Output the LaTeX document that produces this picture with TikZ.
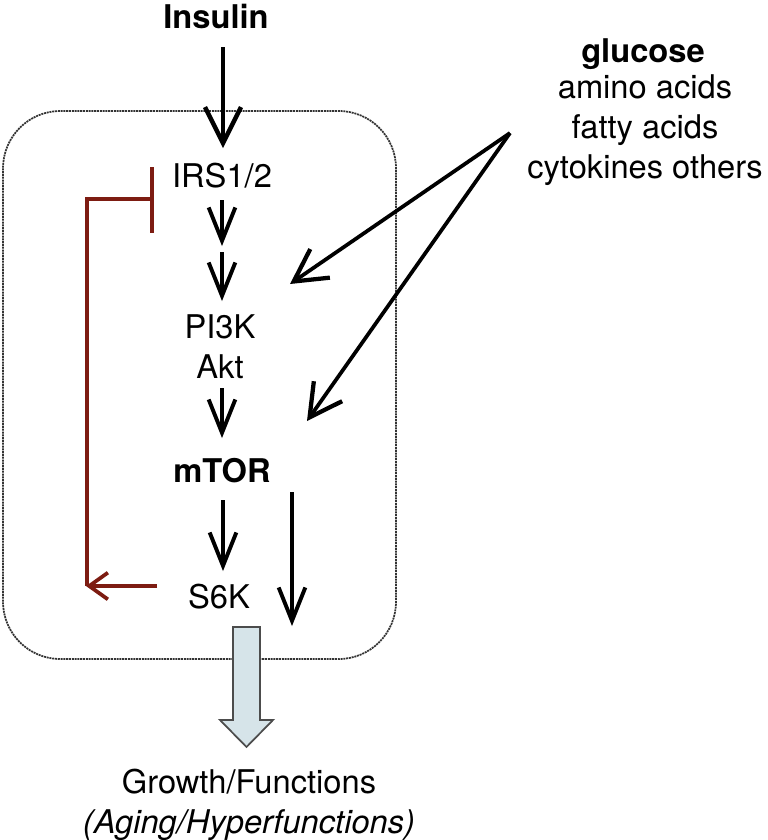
\documentclass[tikz,border=0pt]{standalone}
\usepackage{fontspec}
\setmainfont{TeX Gyre Heros}
\usetikzlibrary{arrows.meta}
\definecolor{fbred}{RGB}{125,28,18}
\definecolor{blockblue}{RGB}{214,228,233}
\tikzset{
  lbl/.style={inner sep=0pt, anchor=base, font=\fontsize{24.5}{29}\selectfont},
  arr/.style={line width=2.8pt, -{Straight Barb[length=25pt,width=20pt,line width=2.9pt]}},
  bigarr/.style={line width=2.8pt, -{Straight Barb[length=27pt,width=27pt,line width=3.3pt]}},
  diagarr/.style={line width=2.8pt, -{Straight Barb[length=24pt,width=26pt,line width=3.2pt]}},
  fbline/.style={draw=fbred, line width=2.6pt},
  cellbox/.style={draw=black!80, line width=1.3pt, dash pattern=on 1.5pt off 0.6pt, rounded corners=43pt}
}
\begin{document}
\begin{tikzpicture}[x=0.75pt,y=-0.75pt]
\useasboundingbox (0,0) rectangle (768,840);
% cell box
\draw[cellbox] (3,111) rectangle (396,659);

% text nodes
\node[lbl, font=\fontsize{24.5}{29}\selectfont\bfseries] (ins) at (216,28) {Insulin};
\node[lbl] (irs) at (222,187) {IRS1/2};
\node[lbl] (pi3k) at (220,338) {PI3K};
\node[lbl] (akt) at (220,378) {Akt};
\node[lbl, font=\fontsize{24.5}{29}\selectfont\bfseries] (mtor) at (222,482) {mTOR};
\node[lbl] (s6k) at (219,608) {S6K};
\node[lbl, font=\fontsize{24.5}{29}\selectfont\bfseries] (glu) at (643,62) {glucose};
\node[lbl] (amino) at (645,98) {amino acids};
\node[lbl] (fatty) at (645,138) {fatty acids};
\node[lbl] (cyto) at (645,178) {cytokines others};
\node[lbl] (growth) at (249,793) {Growth/Functions};
\node[lbl, font=\fontsize{24.5}{29}\selectfont\itshape] (aging) at (249,833) {(Aging/Hyperfunctions)};

% coordinates for connector ends
\coordinate (insA) at (223,47);
\coordinate (insB) at (223,148);
\coordinate (irsA) at (222,200);
\coordinate (irsB) at (222,246);
\coordinate (irsC) at (222,252);
\coordinate (irsD) at (222,301);
\coordinate (aktA) at (222,388);
\coordinate (aktB) at (222,438);
\coordinate (mtA) at (223,500);
\coordinate (mtB) at (223,571);
\coordinate (mtC) at (292,492);
\coordinate (mtD) at (292,626);
\coordinate (src) at (510,133);
\coordinate (tipP) at (290,284);
\coordinate (tipM) at (307,421);
\coordinate (s6A) at (157,586);
\coordinate (s6B) at (86,586);
\coordinate (fbTop) at (87,199);
\coordinate (fbBar) at (152,199);

% pathway arrows
\draw[bigarr] (insA) -- (insB);
\draw[arr] (irsA) -- (irsB);
\draw[arr] (irsC) -- (irsD);
\draw[arr] (aktA) -- (aktB);
\draw[arr] (mtA) -- (mtB);
\draw[arr] (mtC) -- (mtD);
\draw[diagarr] (src) -- (tipP);
\draw[diagarr] (src) -- (tipM);

% feedback inhibition
\draw[fbline, -{Straight Barb[length=14pt,width=20pt,line width=2.8pt]}] (s6A) -- (s6B);
\draw[fbline] (87,586) -- (fbTop) -- (fbBar);
\draw[fbline] (152,167) -- (152,233);

% block arrow
\draw[draw=black!70, line width=1.3pt, fill=blockblue]
  (233,627) -- (260,627) -- (260,720) -- (273,720) -- (246.5,747) -- (220,720) -- (233,720) -- cycle;
\end{tikzpicture}
\end{document}
